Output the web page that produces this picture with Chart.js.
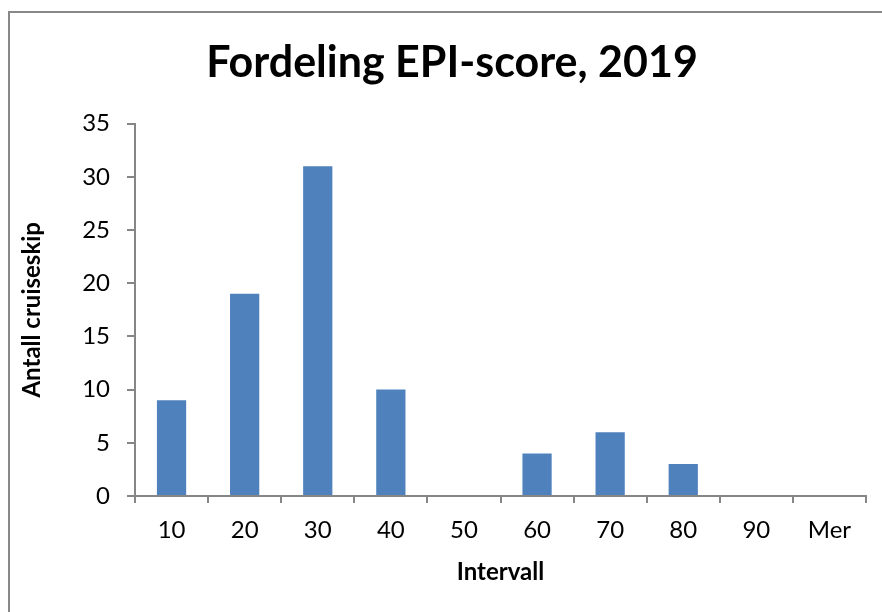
<!DOCTYPE html>
<html>
<head>
<meta charset="utf-8">
<script src="https://cdn.jsdelivr.net/npm/chart.js@4"></script>
<style>
  html, body { margin: 0; padding: 0; background: #fff; }
  #wrap { position: relative; width: 882px; height: 612px; overflow: hidden; }
  #frame { position: absolute; left: 8px; top: 11px; width: 1000px; height: 1000px; border: 2px solid #888; box-sizing: border-box; }
  canvas { position: absolute; left: 0; top: 0; }
</style>
</head>
<body>
<div id="wrap">
  <div id="frame"></div>
  <canvas id="chart" width="882" height="612"></canvas>
</div>
<script>
// Histogram of EPI scores for cruise ships
const categories = ['10', '20', '30', '40', '50', '60', '70', '80', '90', 'Mer'];
const counts = [9, 19, 31, 10, 0, 4, 6, 3, 0, 0];
const yTicks = [0, 5, 10, 15, 20, 25, 30, 35];

const font = 'Lato, "Open Sans", sans-serif';

new Chart(document.getElementById('chart').getContext('2d'), {
    type: 'bar',
    data: {
        labels: categories,
        datasets: [{
            label: 'Antall',
            data: counts,
            backgroundColor: '#4F81BD',
            barPercentage: 0.4,
            categoryPercentage: 1
        }]
    },
    options: {
        responsive: false,
        animation: false,
        // left padding pushes the title centre to the right like the original
        layout: { padding: { left: 38, right: 16, top: 0, bottom: 0 } },
        plugins: {
            legend: { display: false },
            tooltip: { enabled: false },
            title: {
                display: true,
                text: 'Fordeling EPI-score, 2019',
                color: '#000',
                font: { family: font, size: 43, weight: 'bold' },
                padding: { top: 37, bottom: 35 }
            }
        },
        scales: {
            x: {
                grid: { display: true, drawOnChartArea: false, tickLength: 7, color: '#868686', lineWidth: 2 },
                border: { color: '#868686', width: 2 },
                ticks: { color: '#000', font: { family: font, size: 24 }, padding: 13, maxRotation: 0 },
                title: {
                    display: true, text: 'Intervall', color: '#000',
                    font: { family: font, size: 24, weight: 'bold' },
                    padding: { top: 0, bottom: 25 }
                },
                afterFit: function(scale) { scale.height = 116; }
            },
            y: {
                min: 0,
                max: 35,
                afterBuildTicks: function(scale) {
                    scale.ticks = yTicks.map(function(v) { return { value: v }; });
                },
                grid: { display: true, drawOnChartArea: false, tickLength: 8, color: '#868686', lineWidth: 2 },
                border: { color: '#868686', width: 2 },
                ticks: { color: '#000', font: { family: font, size: 24 }, padding: 17 },
                title: {
                    display: true, text: 'Antall cruiseskip', color: '#000',
                    font: { family: font, size: 24, weight: 'bold' },
                    padding: { top: -20, bottom: 0 }
                },
                afterFit: function(scale) { scale.width = 97; }
            }
        }
    }
});
</script>
</body>
</html>
